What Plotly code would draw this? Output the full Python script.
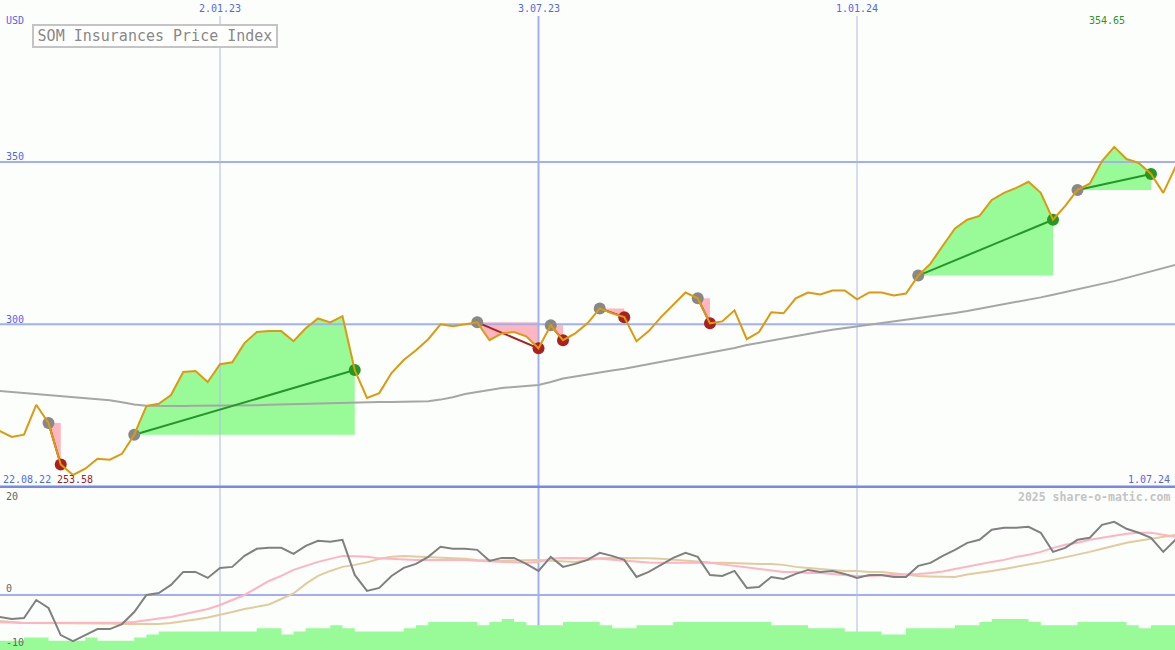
import pandas as pd
import plotly.graph_objects as go

W, H = 1175, 650
MONO = "DejaVu Sans Mono"

# ---------------- data ----------------
dates = pd.date_range("2022-08-22", periods=98, freq="7D")

price = [268.0, 267.2, 265.3, 266.0, 275.2, 269.6, 256.8, 253.58, 255.5, 258.6,
         258.3, 260.1, 266.0, 274.9, 275.5, 278.2, 285.3, 285.6, 282.2, 287.7,
         288.3, 294.2, 297.6, 297.9, 297.9, 294.8, 298.8, 301.8, 300.6, 302.5,
         285.9, 277.3, 278.8, 285.0, 289.0, 292.0, 295.4, 300.0, 299.4, 300.0,
         300.6, 295.1, 297.2, 297.6, 296.3, 292.6, 299.7, 295.1, 297.2, 300.3,
         304.9, 303.4, 302.2, 294.8, 297.9, 302.2, 306.1, 309.8, 308.0, 300.3,
         300.9, 304.3, 295.4, 297.6, 303.7, 303.4, 308.0, 309.8, 309.2, 310.4,
         310.4, 307.7, 309.8, 309.8, 308.9, 309.5, 315.0, 318.7, 324.2, 329.5,
         332.2, 333.4, 338.3, 340.5, 342.0, 343.9, 340.5, 332.2, 336.5, 341.4,
         343.3, 350.3, 354.65, 350.9, 349.7, 346.3, 340.5, 348.5]

ma = [279.8, 279.5, 279.1, 278.8, 278.5, 278.2, 277.8, 277.5, 277.3, 277.0,
      276.6, 276.0, 275.3, 274.9, 274.8, 274.8, 274.8, 274.9, 274.9, 274.9,
      275.0, 275.0, 275.1, 275.2, 275.3, 275.4, 275.5, 275.6, 275.8, 276.0,
      276.1, 276.1, 276.1, 276.1, 276.1, 276.2, 276.3, 276.8, 277.5, 278.5,
      279.1, 279.7, 280.4, 280.7, 281.0, 281.3, 282.2, 283.3, 283.9, 284.6,
      285.3, 285.8, 286.3, 287.0, 287.6, 288.3, 289.0, 289.7, 290.5, 291.3,
      292.0, 292.7, 293.6, 294.3, 295.0, 295.8, 296.5, 297.1, 297.7, 298.3,
      298.8, 299.3, 299.8, 300.3, 300.8, 301.3, 301.8, 302.3, 302.9, 303.5,
      304.1, 304.8, 305.4, 306.0, 306.7, 307.5, 308.3, 309.1, 309.9, 310.7,
      311.5, 312.3, 313.3, 314.3, 315.3, 316.3, 317.3, 318.3]

osc = [-3.9, -4.07, -4.44, -4.26, -0.93, -2.41, -7.41, -8.52, -7.41, -6.3,
       -6.3, -5.37, -3.15, 0.0, 0.37, 1.85, 4.26, 4.26, 3.15, 5.0,
       5.19, 7.22, 8.52, 8.7, 8.7, 7.59, 9.07, 10.0, 9.81, 10.19,
       3.7, 0.74, 1.3, 3.52, 5.0, 5.74, 7.04, 8.89, 8.52, 8.52,
       8.33, 6.3, 6.85, 6.85, 5.74, 4.44, 7.04, 5.19, 5.74, 6.48,
       7.78, 7.22, 6.48, 3.33, 4.26, 5.56, 6.85, 7.78, 7.04, 3.7,
       3.52, 4.44, 1.3, 1.48, 3.33, 2.96, 3.89, 4.63, 4.26, 4.44,
       3.89, 3.15, 3.7, 3.7, 3.33, 3.33, 5.37, 5.93, 7.22, 8.33,
       9.63, 10.19, 12.04, 12.41, 12.41, 12.59, 11.48, 7.96, 8.7, 10.19,
       10.56, 12.96, 13.52, 12.22, 11.48, 10.56, 7.96, 10.19]

osc_fast = [-5.0, -5.0, -5.09, -5.19, -5.19, -5.19, -5.19, -5.19, -5.19, -5.19,
            -5.19, -5.09, -5.0, -4.63, -4.35, -4.07, -3.61, -3.15, -2.59, -1.85,
            -0.93, 0.0, 1.3, 2.59, 3.52, 4.63, 5.37, 6.11, 6.67, 7.22,
            7.13, 7.04, 6.76, 6.67, 6.48, 6.48, 6.48, 6.48, 6.48, 6.48,
            6.3, 6.2, 6.11, 5.93, 5.93, 6.11, 6.67, 6.85, 6.85, 6.76,
            6.67, 6.48, 6.3, 6.2, 6.02, 5.93, 5.93, 5.93, 5.93, 5.93,
            5.65, 5.37, 5.19, 4.81, 4.54, 4.26, 4.26, 4.07, 4.07, 3.89,
            3.8, 3.52, 3.52, 3.61, 3.7, 3.7, 3.89, 4.07, 4.35, 4.81,
            5.28, 5.65, 6.11, 6.48, 7.04, 7.41, 7.96, 8.7, 9.26, 9.63,
            10.19, 10.56, 10.93, 11.3, 11.48, 11.48, 11.11, 10.74]

osc_slow = [-4.63, -4.81, -5.0, -5.19, -5.19, -5.19, -5.19, -5.19, -5.19, -5.19,
            -5.28, -5.37, -5.37, -5.37, -5.37, -5.19, -4.91, -4.54, -4.17, -3.7,
            -3.15, -2.59, -2.22, -1.76, -0.74, 0.28, 2.04, 3.52, 4.44, 5.19,
            5.56, 6.02, 6.67, 7.04, 7.22, 7.13, 6.94, 6.85, 6.76, 6.67,
            6.48, 6.39, 6.3, 6.39, 6.48, 6.48, 6.3, 6.2, 6.11, 6.48,
            6.76, 6.85, 6.85, 6.85, 6.76, 6.67, 6.48, 6.3, 6.11, 6.02,
            5.93, 5.93, 5.83, 5.74, 5.74, 5.56, 5.19, 5.0, 4.81, 4.63,
            4.44, 4.44, 4.26, 4.26, 3.98, 3.7, 3.52, 3.43, 3.33, 3.33,
            3.8, 4.07, 4.44, 4.81, 5.19, 5.56, 6.02, 6.48, 6.94, 7.41,
            7.96, 8.52, 9.07, 9.63, 10.0, 10.37, 10.74, 11.11]

strength = [3, 3, 3, 4, 4, 3, 3, 3, 4, 3,
            3, 3, 4, 5, 6, 6, 6, 6, 6, 6,
            6, 6, 7, 7, 5, 6, 7, 7, 8, 7,
            6, 6, 6, 6, 7, 8, 9, 9, 9, 9,
            8, 9, 10, 9, 8, 8, 8, 9, 9, 9,
            8, 7, 7, 8, 8, 8, 9, 9, 9, 9,
            9, 9, 9, 9, 8, 8, 8, 7, 7, 7,
            6, 6, 6, 5, 5, 7, 7, 7, 7, 8,
            8, 9, 10, 10, 10, 9, 8, 8, 8, 9,
            9, 9, 9, 8, 7, 8, 8, 8]

entries = [5, 12, 40, 46, 50, 58, 76, 89]
exits = [6, 30, 45, 47, 52, 59, 87, 95]

grid_dates = ["2023-01-02", "2023-07-03", "2024-01-01"]
grid_labels = ["2.01.23", "3.07.23", "1.01.24"]
price_ticks = [350, 300]
osc_ticks = [20, 0, -10]

# ---------------- styling ----------------
BG = "#fbfefb"
BLUE_TXT = "#5566ee"
GRID = "#a2b0f0"
ORANGE = "#dc9a0e"
GAIN_FILL = "#98fb98"
LOSS_FILL = "#ffb6c1"
GAIN_LINE = "#27962a"
LOSS_LINE = "#a82020"

Y1 = [249.88, 399.9]
Y2 = [-10.16, 19.94]
Y3 = [0, 163 / 3.1]
XR = ["2022-08-29 07:00", "2024-06-30 17:00"]
SPLIT = 163 / H

fig = go.Figure()

# ---- upper panel: trade fills ----
for e, x in zip(entries, exits):
    gain = price[x] > price[e]
    xs = list(dates[e:x + 1]) + [dates[x], dates[e]]
    ys = price[e:x + 1] + [price[e], price[e]]
    fig.add_trace(go.Scatter(x=xs, y=ys, mode="lines", fill="toself",
                             fillcolor=GAIN_FILL if gain else LOSS_FILL,
                             line=dict(width=0), hoverinfo="skip",
                             xaxis="x", yaxis="y"))

# ---- upper panel grid ----
for v in price_ticks:
    fig.add_trace(go.Scatter(x=XR, y=[v, v], mode="lines",
                             line=dict(color=GRID, width=2),
                             hoverinfo="skip", xaxis="x", yaxis="y"))
for i, d in enumerate(grid_dates):
    fig.add_trace(go.Scatter(x=[d, d], y=[Y1[0], 395.0], mode="lines",
                             line=dict(color=GRID if i == 1 else "#b2bae6",
                                       width=2 if i == 1 else 1),
                             hoverinfo="skip", xaxis="x", yaxis="y"))

# moving average
fig.add_trace(go.Scatter(x=dates, y=ma, mode="lines",
                         line=dict(color="#a6a6a6", width=2),
                         xaxis="x", yaxis="y"))

# trade lines
for e, x in zip(entries, exits):
    gain = price[x] > price[e]
    fig.add_trace(go.Scatter(x=[dates[e], dates[x]], y=[price[e], price[x]],
                             mode="lines",
                             line=dict(color=GAIN_LINE if gain else LOSS_LINE, width=2),
                             xaxis="x", yaxis="y"))

# dots
fig.add_trace(go.Scatter(x=[dates[e] for e in entries], y=[price[e] for e in entries],
                         mode="markers", marker=dict(color="#888888", size=12),
                         xaxis="x", yaxis="y"))
fig.add_trace(go.Scatter(x=[dates[x] for x in exits], y=[price[x] for x in exits],
                         mode="markers",
                         marker=dict(color=["#229922" if price[x] > price[e] else "#aa2020"
                                            for e, x in zip(entries, exits)], size=12),
                         xaxis="x", yaxis="y"))

# price line
fig.add_trace(go.Scatter(x=dates, y=price, mode="lines",
                         line=dict(color=ORANGE, width=2),
                         xaxis="x", yaxis="y"))

# ---- lower panel grid ----
fig.add_trace(go.Scatter(x=XR, y=[0, 0], mode="lines",
                         line=dict(color=GRID, width=2),
                         hoverinfo="skip", xaxis="x", yaxis="y2"))
for i, d in enumerate(grid_dates):
    fig.add_trace(go.Scatter(x=[d, d], y=Y2, mode="lines",
                             line=dict(color=GRID if i == 1 else "#b2bae6",
                                       width=2 if i == 1 else 1),
                             hoverinfo="skip", xaxis="x", yaxis="y2"))

# strength bars (step)
fig.add_trace(go.Scatter(x=dates, y=strength, mode="lines", line_shape="hv",
                         fill="tozeroy", fillcolor=GAIN_FILL,
                         line=dict(width=0, color=GAIN_FILL),
                         xaxis="x", yaxis="y3"))

# oscillator lines
fig.add_trace(go.Scatter(x=dates, y=osc_slow, mode="lines",
                         line=dict(color="#e2cb9c", width=2), xaxis="x", yaxis="y4"))
fig.add_trace(go.Scatter(x=dates, y=osc_fast, mode="lines",
                         line=dict(color="#ffb3c3", width=2), xaxis="x", yaxis="y4"))
fig.add_trace(go.Scatter(x=dates, y=osc, mode="lines",
                         line=dict(color="#808080", width=2), xaxis="x", yaxis="y4"))

# ---------------- annotations ----------------
ann = []


def lab(text, px, py, color, size=10, xanchor="left", bold=False):
    ann.append(dict(text=("<b>%s</b>" % text) if bold else text,
                    x=px / W, y=1 - py / H, xref="paper", yref="paper",
                    xanchor=xanchor, yanchor="middle", showarrow=False,
                    font=dict(family=MONO, size=size, color=color)))


lab("USD", 4, 21, BLUE_TXT)
for d, t in zip(grid_dates, grid_labels):
    ann.append(dict(text=t, x=d, y=1 - 9 / H, xref="x", yref="paper",
                    xanchor="center", yanchor="middle", showarrow=False,
                    font=dict(family=MONO, size=10, color=BLUE_TXT)))
lab(str(price_ticks[0]), 4, 156.5, BLUE_TXT)
lab(str(price_ticks[1]), 4, 319.5, BLUE_TXT)
lab(dates[0].strftime("%d.%m.%y"), 1, 479, BLUE_TXT)
lab("%.2f" % min(price), 55, 479, "#a01c1c")
lab("%d.%02d.%s" % (dates[-1].day, dates[-1].month, dates[-1].strftime("%y")),
    1172, 479, BLUE_TXT, xanchor="right")
lab("%.2f" % max(price), 1107, 21, "#2a962a", xanchor="center")
lab(str(osc_ticks[0]), 4, 496, "#666666")
lab(str(osc_ticks[1]), 4, 588.5, "#666666")
lab(str(osc_ticks[2]), 4, 642, "#666666")
lab("2025 share-o-matic.com", 1172, 496.5, "#c4c4c4", size=11.5,
    xanchor="right", bold=True)

ann.append(dict(text="SOM Insurances Price Index", x=32 / W, y=1 - 24 / H,
                xref="paper", yref="paper", xanchor="left", yanchor="top",
                showarrow=False, width=240, height=18, align="center",
                bgcolor="#ffffff", bordercolor="#c4c4c4", borderwidth=2,
                borderpad=1,
                font=dict(family=MONO, size=15, color="#888888")))

shapes = [dict(type="line", xref="paper", yref="paper", x0=0, x1=1,
               y0=1 - 486.7 / H, y1=1 - 486.7 / H,
               line=dict(color="#7887ea", width=2.5), layer="above")]

ax_off = dict(showgrid=False, zeroline=False, showticklabels=False,
              showline=False, ticks="")
fig.update_layout(
    width=W, height=H,
    margin=dict(l=0, r=0, t=0, b=0),
    paper_bgcolor=BG, plot_bgcolor=BG,
    showlegend=False,
    xaxis=dict(range=XR, type="date", **ax_off),
    yaxis=dict(domain=[SPLIT, 1], range=Y1, **ax_off),
    yaxis2=dict(domain=[0, SPLIT], range=Y2, anchor="x", **ax_off),
    yaxis3=dict(overlaying="y2", range=Y3, anchor="x", **ax_off),
    yaxis4=dict(overlaying="y2", range=Y2, anchor="x", **ax_off),
    annotations=ann,
    shapes=shapes,
)

fig.write_html("out.html", config={"displayModeBar": False},
               post_script="document.body.style.margin='0px';")
